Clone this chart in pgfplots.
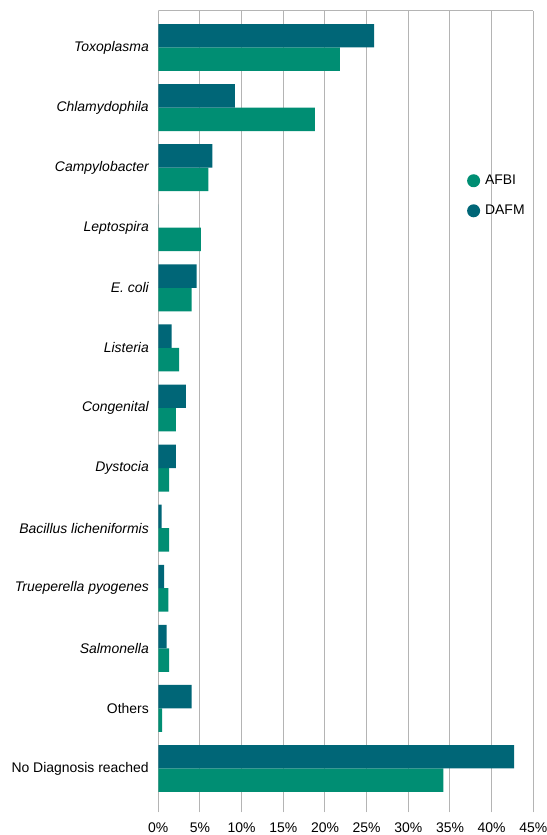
\documentclass[border=0pt]{standalone}
\usepackage{pgfplots}
\pgfplotsset{compat=1.18}
\usepackage{fontspec}
\setmainfont{Liberation Sans}
\definecolor{afbi}{HTML}{008E73}
\definecolor{dafm}{HTML}{006677}
\definecolor{gridgray}{HTML}{B4B4B4}

\begin{document}
\begin{tikzpicture}
\begin{axis}[
  name=ax,
  scale only axis,
  width=375bp, height=801.6bp,
  font=\fontsize{14}{16}\selectfont,
  xbar, bar width=0.39,
  xmin=0, xmax=45,
  ymin=-0.729, ymax=12.6125,
  xtick={0,5,...,45},
  xticklabel={\pgfmathprintnumber{\tick}\%},
  /pgf/number format/assume math mode=true,
  ytick={0,...,12},
  yticklabels={No Diagnosis reached,Others,{\itshape Salmonella},{\itshape Trueperella pyogenes},{\itshape Bacillus licheniformis},{\itshape Dystocia},{\itshape Congenital},{\itshape Listeria},{\itshape E. coli},{\itshape Leptospira},{\itshape Campylobacter},{\itshape Chlamydophila},{\itshape Toxoplasma}},
  major tick length=0pt,
  xmajorgrids,
  major grid style={gridgray, line width=1bp},
  axis line style={draw=none},
  yticklabel style={xshift=-6bp},
  xticklabel style={yshift=-7bp},
  legend image code/.code={\fill[#1] (0,0) circle (6.5bp); \path (9.5bp,0);},
  legend style={draw=none, fill=none, at={(rel axis cs:0.815,0.80)}, anchor=north west,
    row sep=15bp, font=\fontsize{14}{16}\selectfont,
    legend cell align=left},
]
\draw[gridgray, line width=1bp] (rel axis cs:0,1) -- (rel axis cs:1,1);

% AFBI
\addplot[draw=none, fill=afbi, bar shift=-0.195]
  coordinates {
  (34.2,0) (0.45,1) (1.3,2) (1.2,3) (1.3,4) (1.3,5) (2.1,6) (2.5,7)
  (4.0,8) (5.1,9) (6.0,10) (18.8,11) (21.8,12)};
\addlegendentry{AFBI}

% DAFM
\addplot[draw=none, fill=dafm, bar shift=0.195]
  coordinates {
  (42.7,0) (4.0,1) (1.0,2) (0.7,3) (0.4,4) (2.1,5) (3.3,6) (1.6,7)
  (4.6,8) (0,9) (6.5,10) (9.2,11) (25.9,12)};
\addlegendentry{DAFM}
\end{axis}
\pgfresetboundingbox
\path[use as bounding box] ([xshift=-158.3bp,yshift=-22.7bp]ax.south west)
  rectangle ([xshift=13.7bp,yshift=10.7bp]ax.north east);
\end{tikzpicture}
\end{document}
